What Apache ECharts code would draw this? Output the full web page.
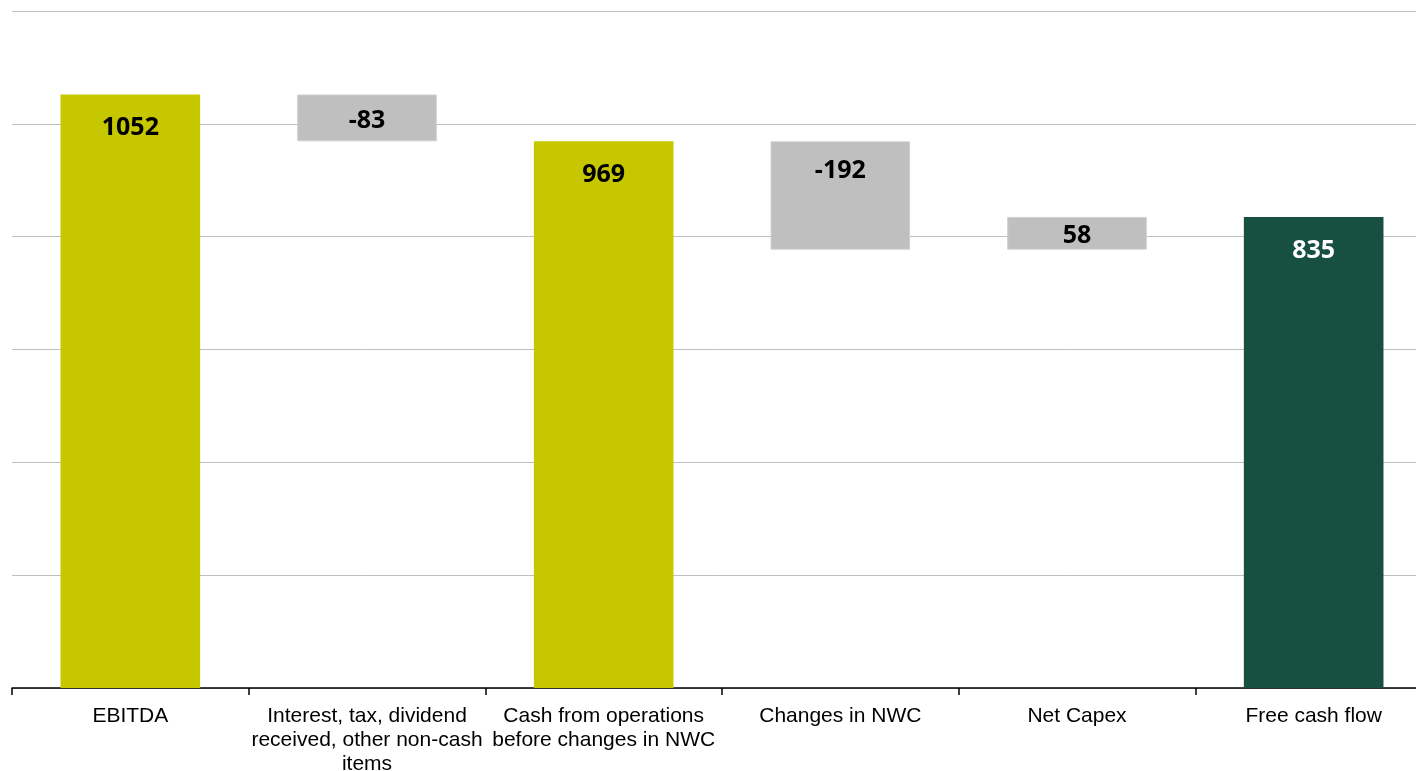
<!DOCTYPE html>
<html>
<head>
<meta charset="utf-8">
<style>
  html, body { margin: 0; padding: 0; background: #ffffff; }
  #chart { width: 1416px; height: 771px; }
</style>
<script src="https://cdn.jsdelivr.net/npm/echarts@6/dist/echarts.min.js"></script>
</head>
<body>
<div id="chart"></div>
<script>
// ---- data ----
const categories = [
  'EBITDA',
  'Interest, tax, dividend\nreceived, other non-cash\nitems',
  'Cash from operations\nbefore changes in NWC',
  'Changes in NWC',
  'Net Capex',
  'Free cash flow'
];
const values = [1052, -83, 969, -192, 58, 835];
const kinds = ['total', 'delta', 'total', 'delta', 'delta', 'final'];
const yTicks = [0, 200, 400, 600, 800, 1000, 1200];

// ---- styles ----
const colorMap = { total: '#C7C700', delta: '#BFBFBF', final: '#175040' };
const labelColorMap = { total: '#000000', delta: '#000000', final: '#ffffff' };

// build floating bars from the values
const baseData = [];
const barData = [];
let running = 0;
values.forEach((v, i) => {
  const k = kinds[i];
  let base, h;
  if (k === 'delta') {
    const end = running + v;
    base = Math.min(running, end);
    h = Math.abs(v);
    running = end;
  } else {
    base = 0;
    h = v;
    running = v;
  }
  baseData.push(base);
  const small = Math.abs(h) < 100;
  barData.push({
    value: h,
    itemStyle: { color: colorMap[k], borderColor: k === 'delta' ? '#D0D0D0' : colorMap[k], borderWidth: k === 'delta' ? 1 : 0 },
    label: {
      show: true,
      formatter: String(v),
      position: small ? 'inside' : 'insideTop',
      distance: k === 'delta' ? 17 : 21,
      offset: small ? [0, 3] : [0, 0],
      color: labelColorMap[k]
    }
  });
});

const chart = echarts.init(document.getElementById('chart'), null, { renderer: 'canvas' });
chart.setOption({
  animation: false,
  grid: { left: 12, top: 11, width: 1420, height: 677, containLabel: false, outerBoundsMode: 'none' },
  xAxis: {
    type: 'category',
    data: categories,
    axisLine: { show: true, lineStyle: { color: '#000000', width: 1.5 } },
    axisTick: { show: true, alignWithLabel: false, length: 7, lineStyle: { color: '#000000', width: 1.5 } },
    axisLabel: {
      interval: 0,
      color: '#000000',
      fontFamily: 'Liberation Sans, Arial, sans-serif',
      fontSize: 21,
      lineHeight: 24,
      margin: 16
    },
    splitLine: { show: false }
  },
  yAxis: {
    type: 'value',
    min: yTicks[0],
    max: yTicks[yTicks.length - 1],
    interval: yTicks[1] - yTicks[0],
    axisLine: { show: false },
    axisTick: { show: false },
    axisLabel: { show: false },
    splitLine: { show: true, lineStyle: { color: '#BFBFBF', width: 1 } }
  },
  series: [
    {
      type: 'bar',
      stack: 'wf',
      data: baseData,
      barWidth: '59%',
      itemStyle: { color: 'transparent' },
      emphasis: { disabled: true },
      silent: true
    },
    {
      type: 'bar',
      stack: 'wf',
      data: barData,
      barWidth: '59%',
      label: {
        show: true,
        fontFamily: 'Open Sans, Lato, sans-serif',
        fontWeight: 'bold',
        fontSize: 25
      }
    }
  ]
});
</script>
</body>
</html>
